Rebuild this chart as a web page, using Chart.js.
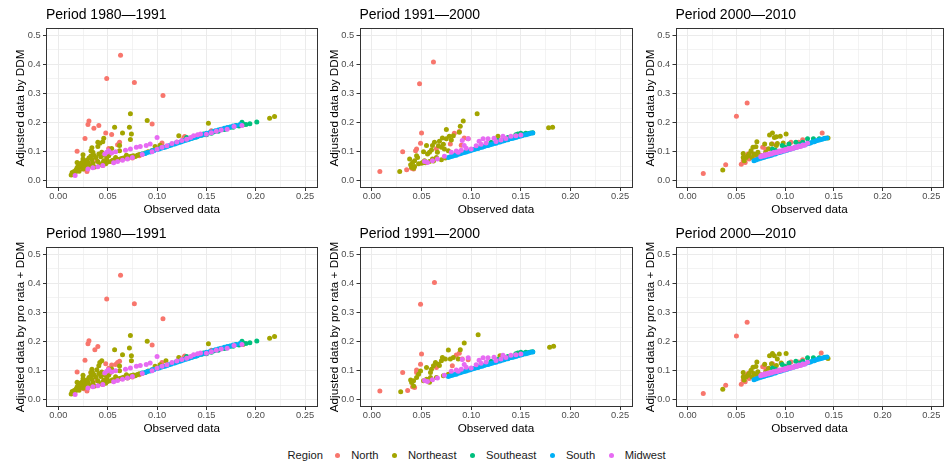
<!DOCTYPE html>
<html>
<head>
<meta charset="utf-8">
<script src="https://cdn.jsdelivr.net/npm/chart.js@4.4.1/dist/chart.umd.min.js"></script>
<style>
html,body{margin:0;padding:0;background:#fff;width:946px;height:463px;overflow:hidden;font-family:"Liberation Sans",Arial,sans-serif;}
.panel{position:absolute;}
#legend{position:absolute;left:287.5px;top:446px;height:18px;display:flex;align-items:center;font-size:11.2px;color:#1a1a1a;white-space:nowrap;}
#legend .dot{display:inline-block;width:5px;height:5px;border-radius:50%;margin-left:13.5px;}
#legend .dot.first{margin-left:12.2px;}
#legend .txt{margin-left:11px;}
</style>
</head>
<body>
<div id="legend"></div>
<script>
// ---------- labels ----------
const periodLabels = ['Period 1980\u20141991', 'Period 1991\u20142000', 'Period 2000\u20142010'];
const yTitleDDM = 'Adjusted data by DDM';
const yTitleProRata = 'Adjusted data by pro rata + DDM';
const xTitle = 'Observed data';
const legendTitle = 'Region';
const regionNames = ['North', 'Northeast', 'Southeast', 'South', 'Midwest'];
const regionColors = ['#F8766D', '#A3A500', '#00BF7D', '#00B0F6', '#E76BF3'];
const xTickValues = [0, 0.025, 0.05, 0.075, 0.1, 0.125, 0.15, 0.175, 0.2, 0.225, 0.25];
const xTickLabels = ['0.00', '', '0.05', '', '0.10', '', '0.15', '', '0.20', '', '0.25'];
const yTickValues = [0, 0.05, 0.1, 0.15, 0.2, 0.25, 0.3, 0.35, 0.4, 0.45, 0.5];
const yTickLabels = ['0.0', '', '0.1', '', '0.2', '', '0.3', '', '0.4', '', '0.5'];

// ---------- Period 1980-1991, DDM ----------
const ddm8091North = [[0.063,0.431],[0.049,0.351],[0.077,0.338],[0.106,0.293],[0.095,0.195],[0.031,0.205],[0.030,0.193],[0.041,0.190],[0.036,0.180],[0.027,0.145],[0.019,0.101],[0.048,0.164],[0.054,0.159],[0.062,0.132],[0.060,0.124],[0.051,0.111],[0.039,0.069],[0.029,0.032],[0.026,0.040],[0.032,0.057],[0.045,0.052],[0.075,0.078],[0.082,0.086],[0.105,0.130],[0.127,0.147],[0.128,0.152],[0.146,0.159],[0.155,0.172]];
const ddm8091Northeast = [[0.073,0.230],[0.090,0.207],[0.057,0.184],[0.072,0.184],[0.065,0.164],[0.074,0.161],[0.073,0.142],[0.046,0.146],[0.045,0.134],[0.042,0.129],[0.040,0.132],[0.040,0.118],[0.034,0.113],[0.033,0.103],[0.035,0.098],[0.062,0.121],[0.062,0.103],[0.054,0.111],[0.051,0.086],[0.049,0.075],[0.046,0.069],[0.044,0.098],[0.025,0.089],[0.025,0.075],[0.024,0.063],[0.021,0.054],[0.019,0.063],[0.013,0.020],[0.014,0.028],[0.015,0.024],[0.016,0.032],[0.017,0.027],[0.018,0.038],[0.019,0.045],[0.020,0.050],[0.021,0.033],[0.022,0.058],[0.023,0.046],[0.024,0.052],[0.025,0.040],[0.026,0.066],[0.027,0.058],[0.028,0.048],[0.029,0.070],[0.030,0.062],[0.031,0.078],[0.032,0.050],[0.033,0.085],[0.034,0.072],[0.035,0.060],[0.036,0.088],[0.037,0.047],[0.038,0.080],[0.040,0.066],[0.041,0.092],[0.042,0.056],[0.043,0.082],[0.045,0.062],[0.047,0.088],[0.048,0.058],[0.050,0.064],[0.052,0.094],[0.053,0.066],[0.055,0.070],[0.057,0.068],[0.058,0.080],[0.060,0.072],[0.062,0.074],[0.064,0.076],[0.066,0.078],[0.068,0.080],[0.069,0.088],[0.070,0.076],[0.072,0.082],[0.074,0.084],[0.076,0.086],[0.078,0.083],[0.080,0.088],[0.082,0.090],[0.085,0.092],[0.088,0.095],[0.091,0.100],[0.095,0.104],[0.098,0.118],[0.100,0.110],[0.103,0.122],[0.106,0.115],[0.122,0.155],[0.152,0.198],[0.187,0.192],[0.214,0.215],[0.219,0.221]];
const ddm8091Southeast = [[0.120,0.132],[0.126,0.138],[0.130,0.149],[0.135,0.146],[0.140,0.150],[0.145,0.156],[0.147,0.161],[0.150,0.158],[0.155,0.163],[0.158,0.168],[0.162,0.170],[0.164,0.175],[0.168,0.176],[0.170,0.178],[0.174,0.184],[0.177,0.184],[0.180,0.190],[0.183,0.188],[0.186,0.201],[0.187,0.195],[0.190,0.193],[0.194,0.196],[0.201,0.202]];
const ddm8091South = [[0.085,0.092],[0.088,0.094],[0.090,0.097],[0.093,0.099],[0.095,0.103],[0.097,0.104],[0.100,0.107],[0.102,0.109],[0.104,0.112],[0.106,0.114],[0.108,0.115],[0.110,0.118],[0.112,0.120],[0.114,0.122],[0.116,0.125],[0.118,0.126],[0.120,0.129],[0.122,0.131],[0.124,0.133],[0.126,0.136],[0.128,0.138],[0.130,0.140],[0.132,0.142],[0.134,0.145],[0.136,0.147],[0.138,0.149],[0.140,0.151],[0.142,0.154],[0.144,0.156],[0.146,0.158],[0.148,0.160],[0.150,0.163],[0.153,0.165],[0.156,0.168],[0.159,0.172],[0.162,0.174],[0.165,0.177],[0.168,0.180],[0.171,0.183],[0.174,0.185],[0.177,0.188],[0.180,0.190],[0.184,0.193]];
const ddm8091Midwest = [[0.017,0.018],[0.030,0.040],[0.035,0.045],[0.040,0.048],[0.045,0.052],[0.047,0.092],[0.049,0.098],[0.051,0.103],[0.054,0.095],[0.056,0.062],[0.058,0.100],[0.060,0.066],[0.065,0.070],[0.068,0.105],[0.070,0.075],[0.073,0.109],[0.075,0.080],[0.079,0.115],[0.083,0.118],[0.085,0.090],[0.089,0.121],[0.093,0.126],[0.095,0.100],[0.100,0.149],[0.100,0.108],[0.105,0.115],[0.110,0.120],[0.115,0.128],[0.120,0.133],[0.125,0.138],[0.130,0.143],[0.134,0.149],[0.137,0.155],[0.141,0.158],[0.144,0.161],[0.150,0.160],[0.155,0.165],[0.160,0.170],[0.165,0.174],[0.171,0.177],[0.178,0.186],[0.186,0.190]];

// ---------- Period 1991-2000, DDM ----------
const ddm9100North = [[0.062,0.408],[0.048,0.333],[0.050,0.164],[0.049,0.129],[0.031,0.100],[0.045,0.109],[0.044,0.103],[0.008,0.032],[0.035,0.038],[0.041,0.046],[0.042,0.040],[0.040,0.043],[0.093,0.147],[0.097,0.144],[0.083,0.163],[0.088,0.169],[0.079,0.126],[0.065,0.110],[0.090,0.122]];
const ddm9100Northeast = [[0.106,0.230],[0.092,0.205],[0.089,0.187],[0.088,0.167],[0.075,0.176],[0.082,0.155],[0.078,0.153],[0.075,0.144],[0.071,0.147],[0.068,0.136],[0.063,0.132],[0.061,0.121],[0.060,0.106],[0.058,0.098],[0.056,0.092],[0.055,0.121],[0.070,0.115],[0.073,0.109],[0.077,0.103],[0.066,0.098],[0.065,0.080],[0.061,0.075],[0.053,0.069],[0.051,0.063],[0.046,0.080],[0.045,0.086],[0.043,0.069],[0.041,0.063],[0.040,0.046],[0.038,0.075],[0.043,0.049],[0.042,0.043],[0.028,0.032],[0.039,0.055],[0.047,0.058],[0.050,0.060],[0.054,0.062],[0.058,0.066],[0.062,0.068],[0.067,0.120],[0.072,0.125],[0.080,0.140],[0.085,0.095],[0.070,0.072],[0.074,0.078],[0.052,0.100],[0.127,0.153],[0.178,0.182],[0.182,0.184]];
const ddm9100Southeast = [[0.110,0.120],[0.120,0.132],[0.127,0.138],[0.132,0.143],[0.137,0.149],[0.145,0.158],[0.147,0.161],[0.148,0.156],[0.150,0.163],[0.153,0.160],[0.155,0.163],[0.158,0.162],[0.160,0.164],[0.162,0.165]];
const ddm9100South = [[0.077,0.080],[0.079,0.082],[0.081,0.084],[0.083,0.087],[0.085,0.088],[0.087,0.091],[0.089,0.093],[0.091,0.095],[0.093,0.097],[0.095,0.099],[0.097,0.101],[0.099,0.103],[0.101,0.106],[0.103,0.107],[0.105,0.110],[0.107,0.111],[0.109,0.114],[0.111,0.115],[0.113,0.118],[0.115,0.120],[0.117,0.121],[0.119,0.124],[0.121,0.125],[0.123,0.128],[0.125,0.129],[0.127,0.132],[0.129,0.133],[0.131,0.136],[0.133,0.137],[0.135,0.140],[0.137,0.141],[0.139,0.144],[0.141,0.145],[0.143,0.147],[0.145,0.149],[0.147,0.151],[0.149,0.153],[0.151,0.155],[0.153,0.157],[0.155,0.158],[0.157,0.160],[0.159,0.162],[0.162,0.164]];
const ddm9100Midwest = [[0.053,0.066],[0.056,0.063],[0.061,0.069],[0.066,0.075],[0.073,0.084],[0.080,0.098],[0.087,0.098],[0.085,0.102],[0.090,0.105],[0.091,0.138],[0.093,0.121],[0.095,0.112],[0.097,0.144],[0.100,0.109],[0.105,0.120],[0.108,0.136],[0.110,0.125],[0.112,0.144],[0.115,0.130],[0.117,0.144],[0.123,0.146],[0.125,0.135],[0.130,0.140],[0.132,0.153],[0.135,0.145],[0.140,0.153],[0.145,0.155],[0.150,0.157]];

// ---------- Period 2000-2010, DDM ----------
const ddm0010North = [[0.061,0.267],[0.050,0.222],[0.016,0.025],[0.039,0.055],[0.055,0.057],[0.138,0.164],[0.118,0.141],[0.106,0.132],[0.058,0.086],[0.062,0.092],[0.065,0.098],[0.077,0.115],[0.080,0.109],[0.087,0.126],[0.057,0.069],[0.059,0.063],[0.063,0.075],[0.104,0.126],[0.114,0.132],[0.070,0.080],[0.075,0.088]];
const ddm0010Northeast = [[0.036,0.037],[0.057,0.094],[0.071,0.134],[0.087,0.164],[0.084,0.157],[0.089,0.149],[0.095,0.153],[0.101,0.161],[0.091,0.151],[0.079,0.126],[0.086,0.126],[0.092,0.128],[0.067,0.115],[0.070,0.117],[0.065,0.103],[0.068,0.092],[0.072,0.098],[0.060,0.080],[0.062,0.086],[0.063,0.092],[0.075,0.086],[0.080,0.098],[0.091,0.121],[0.057,0.080],[0.058,0.069],[0.066,0.080],[0.070,0.090],[0.144,0.147],[0.098,0.130],[0.083,0.110]];
const ddm0010Southeast = [[0.087,0.109],[0.090,0.105],[0.097,0.121],[0.100,0.115],[0.104,0.126],[0.111,0.132],[0.115,0.125],[0.118,0.132],[0.123,0.144],[0.129,0.144],[0.135,0.144],[0.141,0.146]];
const ddm0010South = [[0.068,0.069],[0.070,0.071],[0.072,0.074],[0.074,0.076],[0.076,0.078],[0.078,0.080],[0.080,0.082],[0.082,0.084],[0.084,0.086],[0.086,0.088],[0.088,0.091],[0.090,0.092],[0.092,0.095],[0.094,0.097],[0.096,0.099],[0.098,0.101],[0.100,0.103],[0.102,0.105],[0.104,0.107],[0.106,0.109],[0.108,0.112],[0.110,0.113],[0.112,0.116],[0.114,0.118],[0.116,0.120],[0.118,0.122],[0.120,0.124],[0.122,0.126],[0.124,0.128],[0.126,0.130],[0.128,0.133],[0.130,0.134],[0.132,0.137],[0.134,0.139],[0.136,0.141],[0.138,0.143],[0.140,0.145],[0.143,0.147]];
const ddm0010Midwest = [[0.075,0.082],[0.076,0.086],[0.078,0.085],[0.079,0.089],[0.080,0.087],[0.082,0.091],[0.083,0.089],[0.085,0.094],[0.086,0.092],[0.088,0.097],[0.089,0.095],[0.091,0.099],[0.092,0.097],[0.094,0.102],[0.095,0.100],[0.097,0.104],[0.098,0.102],[0.100,0.107],[0.101,0.105],[0.103,0.110],[0.105,0.108],[0.106,0.112],[0.108,0.111],[0.110,0.116],[0.112,0.114],[0.114,0.119],[0.116,0.118],[0.118,0.123],[0.120,0.122],[0.123,0.129]];

// ---------- pro rata + DDM (North / Northeast differ visibly; other regions read the same) ----------
const pr8091North = [[0.063,0.428],[0.049,0.346],[0.077,0.330],[0.106,0.278],[0.095,0.188],[0.031,0.203],[0.030,0.192],[0.040,0.183],[0.037,0.172],[0.027,0.136],[0.019,0.095],[0.048,0.124],[0.054,0.119],[0.058,0.121],[0.060,0.128],[0.062,0.132],[0.051,0.108],[0.039,0.066],[0.029,0.030],[0.026,0.038],[0.033,0.094],[0.045,0.052],[0.075,0.078],[0.082,0.086],[0.105,0.128],[0.127,0.145],[0.128,0.150],[0.146,0.158],[0.155,0.170]];
const pr8091Northeast = [[0.073,0.221],[0.090,0.201],[0.057,0.172],[0.072,0.178],[0.065,0.155],[0.074,0.151],[0.074,0.134],[0.044,0.134],[0.042,0.128],[0.041,0.117],[0.039,0.103],[0.033,0.094],[0.034,0.105],[0.035,0.092],[0.062,0.116],[0.062,0.100],[0.054,0.106],[0.051,0.084],[0.049,0.074],[0.046,0.068],[0.044,0.095],[0.025,0.084],[0.025,0.072],[0.024,0.061],[0.021,0.053],[0.019,0.060],[0.013,0.020],[0.014,0.028],[0.015,0.024],[0.016,0.032],[0.017,0.027],[0.018,0.037],[0.019,0.044],[0.020,0.049],[0.021,0.033],[0.022,0.057],[0.023,0.045],[0.024,0.051],[0.025,0.040],[0.026,0.064],[0.027,0.057],[0.028,0.047],[0.029,0.068],[0.030,0.061],[0.031,0.076],[0.032,0.049],[0.033,0.082],[0.034,0.070],[0.035,0.059],[0.036,0.086],[0.037,0.047],[0.038,0.078],[0.040,0.065],[0.041,0.090],[0.042,0.055],[0.043,0.080],[0.045,0.061],[0.047,0.086],[0.048,0.057],[0.050,0.063],[0.052,0.092],[0.053,0.065],[0.055,0.069],[0.057,0.067],[0.058,0.079],[0.060,0.071],[0.062,0.073],[0.064,0.075],[0.066,0.077],[0.068,0.079],[0.069,0.086],[0.070,0.075],[0.072,0.081],[0.074,0.083],[0.076,0.085],[0.078,0.082],[0.080,0.087],[0.082,0.089],[0.085,0.091],[0.088,0.094],[0.091,0.099],[0.095,0.103],[0.098,0.115],[0.100,0.109],[0.103,0.120],[0.109,0.134],[0.122,0.145],[0.152,0.192],[0.187,0.190],[0.214,0.211],[0.219,0.217]];
const pr9100North = [[0.063,0.403],[0.049,0.328],[0.050,0.157],[0.049,0.122],[0.045,0.102],[0.045,0.094],[0.031,0.094],[0.008,0.030],[0.036,0.032],[0.043,0.042],[0.041,0.045],[0.085,0.154],[0.091,0.140],[0.097,0.137],[0.065,0.111],[0.081,0.117],[0.088,0.160]];
const pr9100Northeast = [[0.107,0.223],[0.093,0.195],[0.089,0.172],[0.077,0.171],[0.082,0.145],[0.079,0.140],[0.074,0.140],[0.070,0.134],[0.067,0.122],[0.064,0.128],[0.062,0.117],[0.060,0.105],[0.059,0.094],[0.055,0.111],[0.049,0.099],[0.047,0.088],[0.045,0.076],[0.042,0.065],[0.040,0.059],[0.039,0.068],[0.042,0.047],[0.029,0.027],[0.052,0.065],[0.055,0.070],[0.059,0.076],[0.065,0.076],[0.072,0.082],[0.077,0.088],[0.087,0.140],[0.071,0.145],[0.068,0.118],[0.058,0.060],[0.129,0.151],[0.179,0.180],[0.183,0.184]];
const pr0010North = [[0.061,0.266],[0.050,0.219],[0.016,0.021],[0.039,0.050],[0.055,0.053],[0.137,0.161],[0.118,0.137],[0.106,0.130],[0.058,0.084],[0.062,0.090],[0.065,0.097],[0.077,0.113],[0.080,0.107],[0.087,0.124],[0.057,0.067],[0.059,0.062],[0.063,0.073],[0.104,0.124],[0.114,0.130],[0.070,0.079],[0.075,0.086]];
const pr0010Northeast = [[0.036,0.036],[0.057,0.094],[0.071,0.130],[0.087,0.159],[0.084,0.151],[0.089,0.151],[0.094,0.157],[0.101,0.159],[0.092,0.140],[0.096,0.126],[0.079,0.122],[0.086,0.124],[0.067,0.112],[0.070,0.114],[0.065,0.101],[0.068,0.090],[0.072,0.096],[0.060,0.079],[0.062,0.084],[0.063,0.090],[0.075,0.085],[0.080,0.096],[0.091,0.118],[0.057,0.078],[0.058,0.068],[0.066,0.079],[0.070,0.088],[0.083,0.108],[0.144,0.142]];

// ---------- layout ----------
const FONT = '"Liberation Sans", Arial, sans-serif';
Chart.defaults.font.family = FONT;
const cols = [
  {left: 0,   width: 320, yW: 46,   padR: 2},
  {left: 316, width: 320, yW: 43.5, padR: 3.5},
  {left: 631, width: 315, yW: 44.5, padR: 0.5}
];
const rows = [{top: 0}, {top: 219}];
const PANEL_H = 222;

const panelBorder = {
  id: 'panelBorder',
  afterDraw(chart) {
    const {ctx, chartArea: a} = chart;
    ctx.save();
    ctx.strokeStyle = '#333333';
    ctx.lineWidth = 1;
    ctx.strokeRect(Math.round(a.left) + 0.5, Math.round(a.top) + 0.5,
                   Math.round(a.right) - Math.round(a.left) - 1, Math.round(a.bottom) - Math.round(a.top) - 1);
    ctx.restore();
  }
};

function gridColor(ctx) { return '#EBEBEB'; }
function gridWidth(ctx) { return ctx.index % 2 === 0 ? 1 : 0.6; }
function tickColor(ctx) { return ctx.index % 2 === 0 ? '#333333' : 'rgba(0,0,0,0)'; }

function makePanel(colIdx, rowIdx, title, yTitle, series) {
  const c = cols[colIdx], r = rows[rowIdx];
  const div = document.createElement('div');
  div.className = 'panel';
  div.style.left = c.left + 'px';
  div.style.top = r.top + 'px';
  div.style.width = c.width + 'px';
  div.style.height = PANEL_H + 'px';
  const canvas = document.createElement('canvas');
  div.appendChild(canvas);
  document.body.appendChild(div);
  const datasets = regionNames.map((name, i) => ({
    label: name,
    data: series[i].map(([x, y]) => ({x, y})),
    backgroundColor: regionColors[i],
    borderWidth: 0,
    pointRadius: 2.5,
    pointHoverRadius: 2.5,
    order: regionNames.length - i
  }));
  new Chart(canvas, {
    type: 'scatter',
    data: {datasets},
    plugins: [panelBorder],
    options: {
      responsive: true,
      maintainAspectRatio: false,
      animation: false,
      events: [],
      layout: {padding: {left: 0, right: c.padR, top: 0, bottom: 0}},
      plugins: {
        legend: {display: false},
        tooltip: {enabled: false},
        title: {
          display: true, text: title, align: 'start', fullSize: false,
          color: '#000', font: {family: FONT, size: 14, weight: 'normal', lineHeight: 1.2},
          padding: {top: 7, bottom: 4.2}
        }
      },
      scales: {
        x: {
          type: 'linear', min: -0.0125, max: 0.2625,
          afterBuildTicks: (axis) => { axis.ticks = xTickValues.map(v => ({value: v})); },
          afterFit: (s) => { s.height = 34; },
          ticks: {
            autoSkip: false, maxRotation: 0, padding: 0,
            color: '#4D4D4D', font: {family: FONT, size: 9.3},
            callback: (v, i) => xTickLabels[i]
          },
          grid: {color: gridColor, lineWidth: gridWidth, tickLength: 3, tickColor: tickColor, tickWidth: 1, drawTicks: true},
          border: {display: false},
          title: {display: true, text: xTitle, color: '#000', font: {family: FONT, size: 11.7, lineHeight: 1.2}, padding: {top: 0, bottom: 5}}
        },
        y: {
          type: 'linear', min: -0.025, max: 0.525,
          afterBuildTicks: (axis) => { axis.ticks = yTickValues.map(v => ({value: v})); },
          afterFit: (s) => { s.width = c.yW; },
          ticks: {
            autoSkip: false, padding: 2.3,
            color: '#4D4D4D', font: {family: FONT, size: 9.3},
            callback: (v, i) => yTickLabels[i]
          },
          grid: {color: gridColor, lineWidth: gridWidth, tickLength: 3, tickColor: tickColor, tickWidth: 1, drawTicks: true},
          border: {display: false},
          title: {display: true, text: yTitle, color: '#000', font: {family: FONT, size: 11.7, lineHeight: 1.2}, padding: {top: c.yW - 25 - 7.02, bottom: 0}}
        }
      }
    }
  });
}

makePanel(0, 0, periodLabels[0], yTitleDDM, [ddm8091North, ddm8091Northeast, ddm8091Southeast, ddm8091South, ddm8091Midwest]);
makePanel(1, 0, periodLabels[1], yTitleDDM, [ddm9100North, ddm9100Northeast, ddm9100Southeast, ddm9100South, ddm9100Midwest]);
makePanel(2, 0, periodLabels[2], yTitleDDM, [ddm0010North, ddm0010Northeast, ddm0010Southeast, ddm0010South, ddm0010Midwest]);
makePanel(0, 1, periodLabels[0], yTitleProRata, [pr8091North, pr8091Northeast, ddm8091Southeast, ddm8091South, ddm8091Midwest]);
makePanel(1, 1, periodLabels[1], yTitleProRata, [pr9100North, pr9100Northeast, ddm9100Southeast, ddm9100South, ddm9100Midwest]);
makePanel(2, 1, periodLabels[2], yTitleProRata, [pr0010North, pr0010Northeast, ddm0010Southeast, ddm0010South, ddm0010Midwest]);

// ---------- legend ----------
const legend = document.getElementById('legend');
const lt = document.createElement('span');
lt.textContent = legendTitle;
legend.appendChild(lt);
regionNames.forEach((name, i) => {
  const d = document.createElement('span');
  d.className = 'dot' + (i === 0 ? ' first' : '');
  d.style.background = regionColors[i];
  legend.appendChild(d);
  const t = document.createElement('span');
  t.className = 'txt';
  t.textContent = name;
  legend.appendChild(t);
});
</script>
</body>
</html>
